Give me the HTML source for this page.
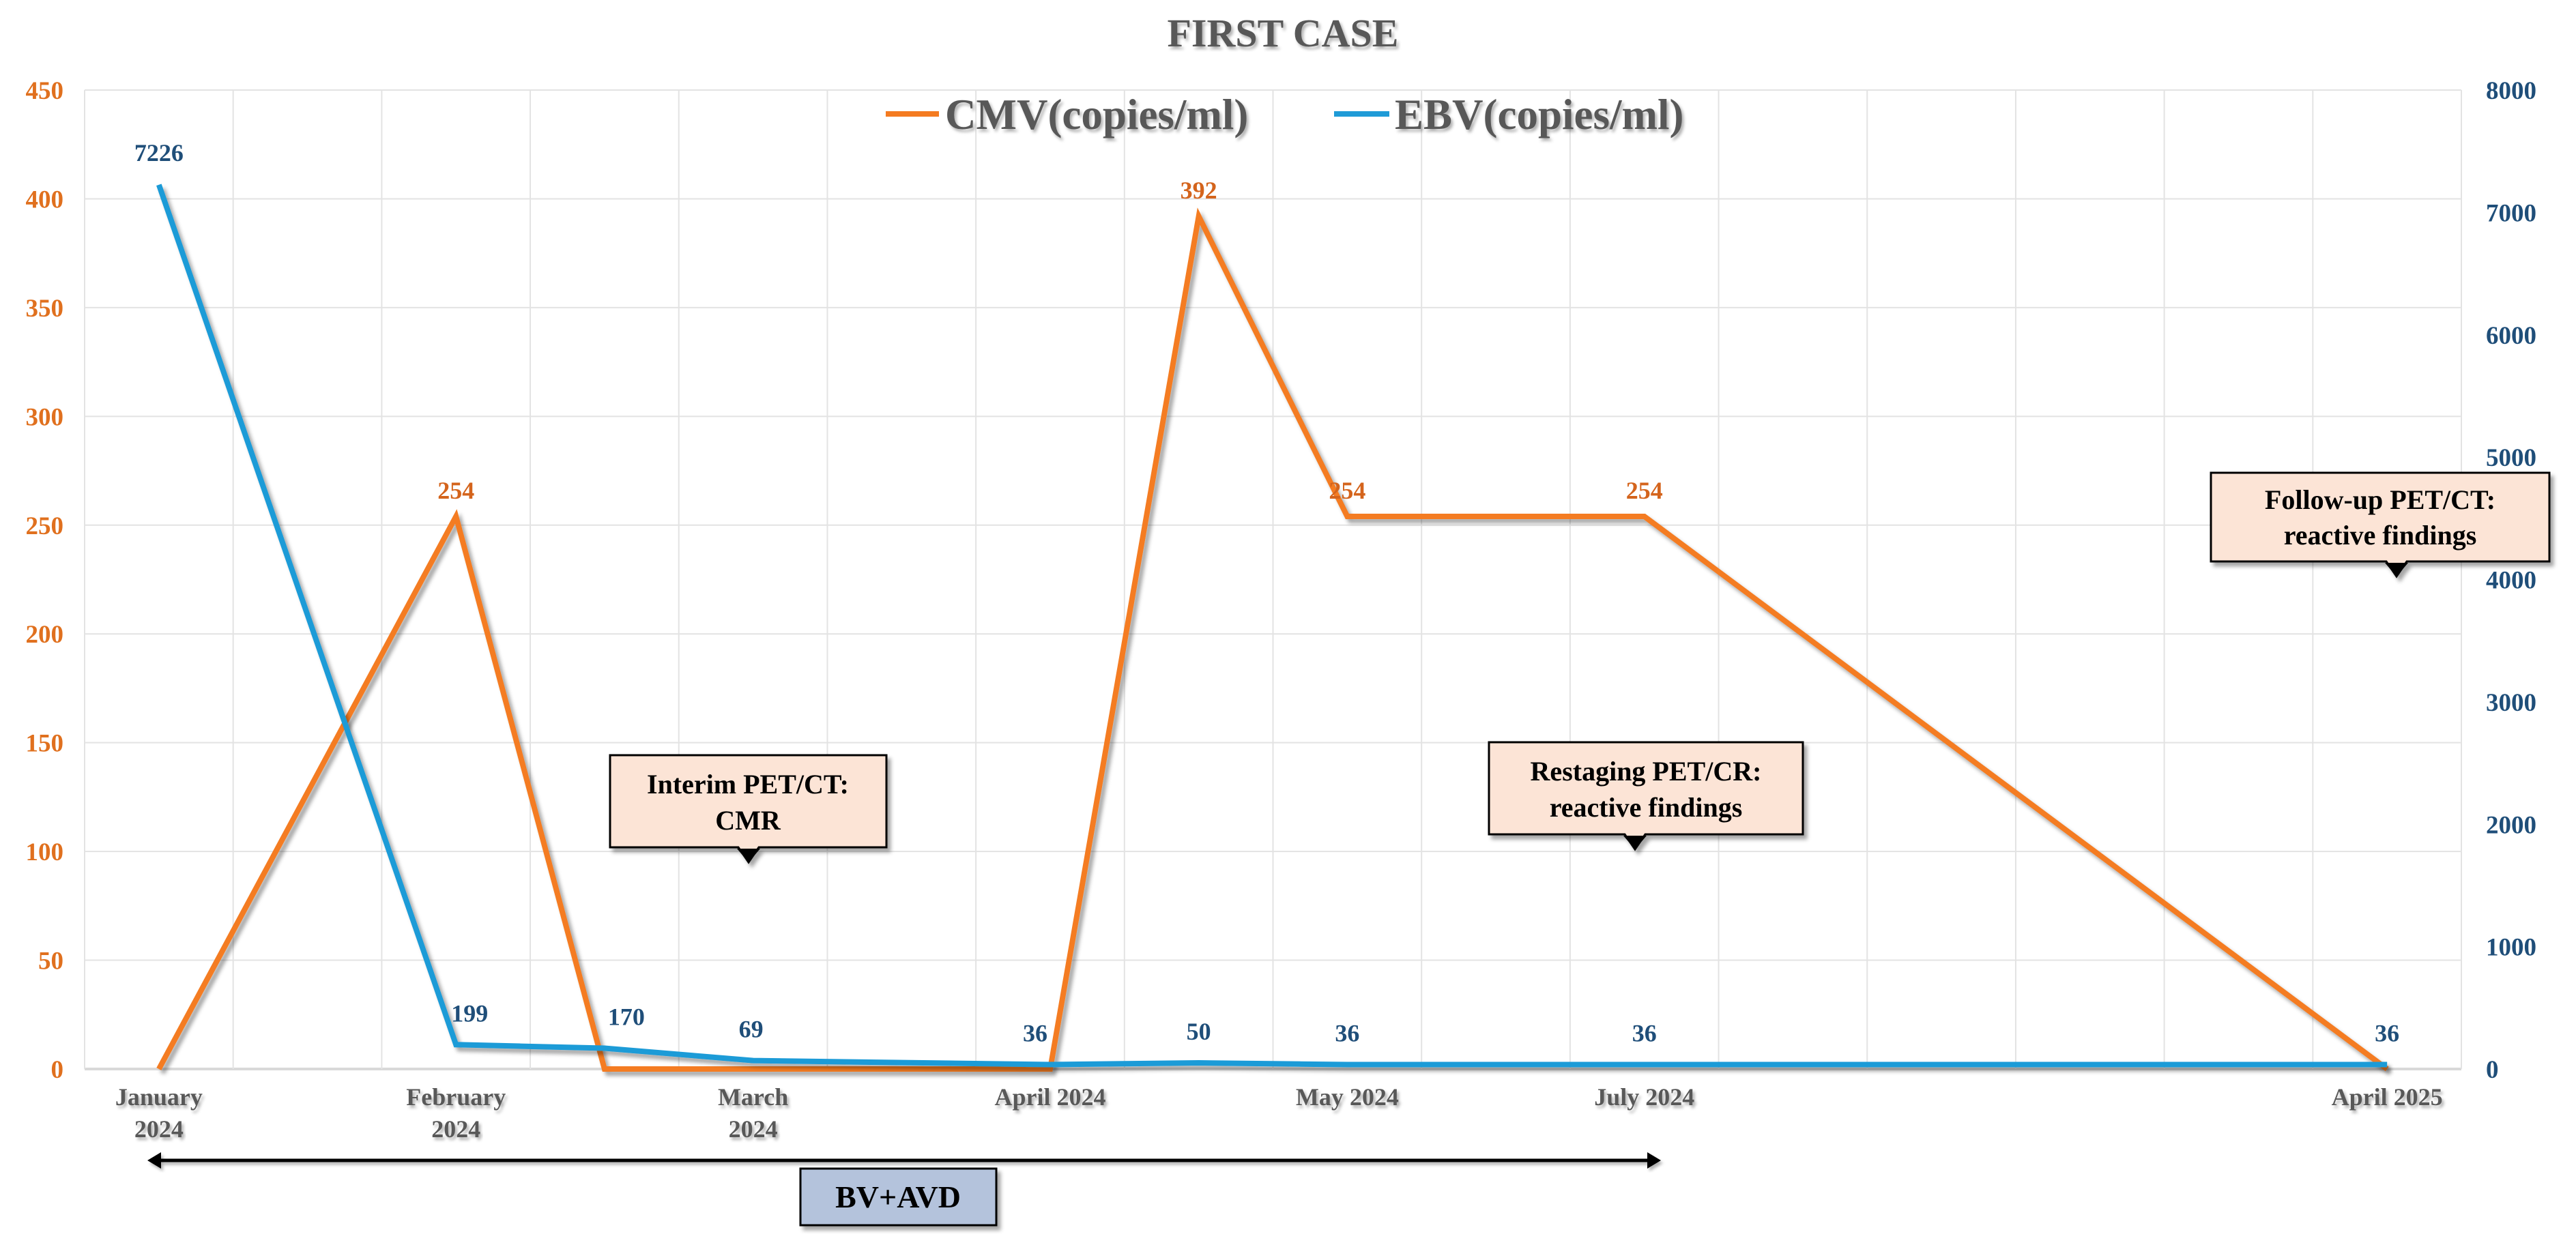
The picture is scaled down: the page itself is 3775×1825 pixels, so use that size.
<!DOCTYPE html>
<html><head><meta charset="utf-8"><style>
html,body{margin:0;padding:0;background:#fff;}
svg{display:block;font-family:"Liberation Serif",serif;font-weight:bold;}
</style></head><body>
<svg id="chart" width="3775" height="1825" viewBox="0 0 3775 1825" xmlns="http://www.w3.org/2000/svg">
<defs>
<filter id="sh" x="-5%" y="-5%" width="110%" height="120%"><feDropShadow dx="5" dy="6" stdDeviation="3" flood-color="#000" flood-opacity="0.35"/></filter>
<filter id="tsh" x="-5%" y="-5%" width="110%" height="130%"><feDropShadow dx="3" dy="4" stdDeviation="2" flood-color="#000" flood-opacity="0.3"/></filter>
</defs>
<g id="grid"></g>
<g id="axes"></g>
<g id="series"></g>
<g id="labels"></g>
<text x="1880" y="68" text-anchor="middle" font-size="58" fill="#595959" filter="url(#tsh)">FIRST CASE</text>
<g>
<g>
<line x1="1298" y1="167" x2="1376" y2="167" stroke="#F47B20" stroke-width="8"/>
<text x="1385" y="189" font-size="63" fill="#595959" filter="url(#tsh)">CMV(copies/ml)</text></g>
<g>
<line x1="1955" y1="167" x2="2036" y2="167" stroke="#1F9BD7" stroke-width="8"/>
<text x="2044" y="189" font-size="63" fill="#595959" filter="url(#tsh)">EBV(copies/ml)</text></g>
</g>
<g filter="url(#sh)">
<path d="M894,1107 H1299 V1242 H1112 L1097,1264 L1082,1242 H894 Z" fill="#FCE4D6" stroke="#000" stroke-width="3"/>
<path d="M1080,1244 L1114,1244 L1097,1264 Z" fill="#000"/>
<text x="1096" y="1163" text-anchor="middle" font-size="40" fill="#000">Interim PET/CT:</text>
<text x="1096" y="1216" text-anchor="middle" font-size="40" fill="#000">CMR</text>
</g>
<g filter="url(#sh)">
<path d="M2182,1088 H2642 V1223 H2411 L2396,1245 L2381,1223 H2182 Z" fill="#FCE4D6" stroke="#000" stroke-width="3"/>
<path d="M2379,1225 L2413,1225 L2396,1245 Z" fill="#000"/>
<text x="2412" y="1144" text-anchor="middle" font-size="40" fill="#000">Restaging PET/CR:</text>
<text x="2412" y="1197" text-anchor="middle" font-size="40" fill="#000">reactive findings</text>
</g>
<g filter="url(#sh)">
<path d="M3240,693 H3736 V823 H3527 L3512,845 L3497,823 H3240 Z" fill="#FCE4D6" stroke="#000" stroke-width="3"/>
<path d="M3495,825 L3529,825 L3512,845 Z" fill="#000"/>
<text x="3488" y="746" text-anchor="middle" font-size="40" fill="#000">Follow-up PET/CT:</text>
<text x="3488" y="798" text-anchor="middle" font-size="40" fill="#000">reactive findings</text>
</g>
<g filter="url(#tsh)">
<line x1="230" y1="1701" x2="2420" y2="1701" stroke="#000" stroke-width="5"/>
<path d="M216,1701 L236,1689 L236,1713 Z" fill="#000"/>
<path d="M2434,1701 L2414,1689 L2414,1713 Z" fill="#000"/>
</g>
<g filter="url(#sh)">
<rect x="1173" y="1713" width="287" height="83" fill="#B4C3DC" stroke="#000" stroke-width="3"/>
<text x="1316" y="1770" text-anchor="middle" font-size="46" fill="#000">BV+AVD</text>
</g>
</svg>
<script>
const categories = ["January|2024","","February|2024","","March|2024","","April 2024","","May 2024","","July 2024","","","","","April 2025"];
const cmvValues = [0,null,254,0,null,null,0,392,254,null,254,null,null,null,null,0];
const cmvLabels = [null,null,"254",null,null,null,null,"392","254",null,"254",null,null,null,null,null];
const ebvValues = [7226,null,199,170,69,null,36,50,36,null,36,null,null,null,null,36];
const ebvLabels = ["7226",null,"199","170","69",null,"36","50","36",null,"36",null,null,null,null,"36"];
const leftTicks = [0,50,100,150,200,250,300,350,400,450];
const rightTicks = [0,1000,2000,3000,4000,5000,6000,7000,8000];
const leftMax = 450, rightMax = 8000;

const NS="http://www.w3.org/2000/svg";
const L=124,R=3607,T=132,B=1567;
const band=(R-L)/categories.length;
const x=i=>L+(i+0.5)*band;
const yL=v=>B-v/leftMax*(B-T);
const yR=v=>B-v/rightMax*(B-T);
function mk(tag,attrs,parent,txt){const e=document.createElementNS(NS,tag);for(const k in attrs)e.setAttribute(k,attrs[k]);if(txt!==undefined)e.textContent=txt;parent.appendChild(e);return e;}
const grid=document.getElementById('grid'),axes=document.getElementById('axes'),series=document.getElementById('series'),labels=document.getElementById('labels');

leftTicks.forEach(v=>{
  const g=mk('line',{x1:L,x2:R,y1:yL(v),y2:yL(v),stroke:v===0?'#D9D9D9':'#E3E3E3','stroke-width':v===0?4:2},grid);
  
  
  const t=mk('text',{x:93,y:yL(v)+13,'text-anchor':'end','font-size':37,fill:'#E0701E'},axes,String(v));
  
  
});
for(let i=0;i<=categories.length;i++){
  const g=mk('line',{x1:L+i*band,x2:L+i*band,y1:T,y2:B,stroke:'#E3E3E3','stroke-width':2},grid);
  
  
}
rightTicks.forEach(v=>{
  const t=mk('text',{x:3643,y:yR(v)+13,'font-size':37,fill:'#1F4E79'},axes,String(v));
  
  
});
categories.forEach((c,i)=>{
  if(!c)return;
  const parts=c.split('|');
  parts.forEach((p,j)=>{
    const t=mk('text',{x:x(i),y:1620+j*47,'text-anchor':'middle','font-size':36,fill:'#595959',filter:'url(#tsh)'},axes,p);
    
    
  });
});
function drawLine(vals,yf,color,name){
  const pts=[];vals.forEach((v,i)=>{if(v!==null)pts.push(x(i)+','+yf(v));});
  const p=mk('polyline',{points:pts.join(' '),fill:'none',stroke:color,'stroke-width':8,'stroke-linejoin':'miter',filter:'url(#sh)'},series);
  
  
}
drawLine(cmvValues,yL,'#F47B20','cmv-line');
drawLine(ebvValues,yR,'#1F9BD7','ebv-line');
cmvLabels.forEach((s,i)=>{
  if(!s)return;
  const t=mk('text',{x:x(i),y:yL(cmvValues[i])-26,'text-anchor':'middle','font-size':36,fill:'#D4641C'},labels,s);
  
  
});
const ebvDx=[0,0,20,32,-3,0,-22,0,0,0,0,0,0,0,0,0];
ebvLabels.forEach((s,i)=>{
  if(!s)return;
  const t=mk('text',{x:x(i)+ebvDx[i],y:yR(ebvValues[i])-(i===0?35:34),'text-anchor':'middle','font-size':36,fill:'#1F4E79'},labels,s);
  
  
});
</script>
</body></html>
